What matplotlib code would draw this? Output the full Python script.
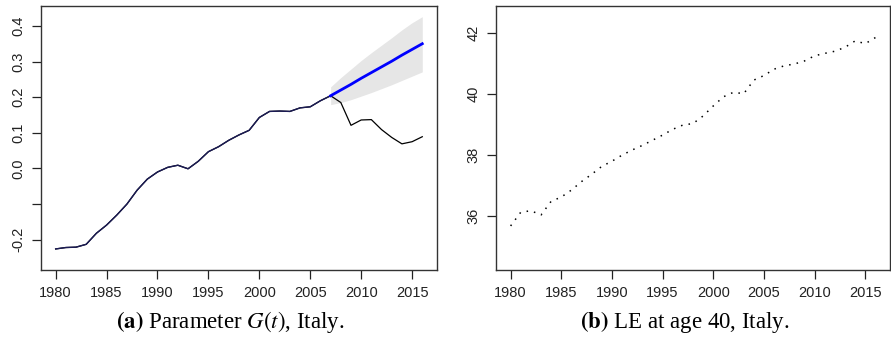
import matplotlib
matplotlib.use("Agg")
import matplotlib.pyplot as plt

years = list(range(1980, 2017))

# estimated parameter G(t), Italy (observed)
g_obs = [-0.226, -0.222, -0.221, -0.213, -0.182, -0.159, -0.131, -0.100, -0.061, -0.030,
         -0.010, 0.003, 0.009, -0.001, 0.020, 0.047, 0.061, 0.079, 0.094, 0.107,
         0.143, 0.160, 0.161, 0.160, 0.170, 0.173, 0.190, 0.204, 0.185, 0.121,
         0.136, 0.137, 0.109, 0.087, 0.069, 0.075, 0.089]
fit_end = 2007

# forecast 2007-2016 with band
fc_years = list(range(2007, 2017))
fc_mean = [0.204, 0.220, 0.236, 0.253, 0.269, 0.285, 0.301, 0.318, 0.334, 0.350]
fc_upper = [0.229, 0.255, 0.279, 0.303, 0.325, 0.346, 0.367, 0.389, 0.409, 0.426]
fc_lower = [0.179, 0.185, 0.193, 0.203, 0.213, 0.224, 0.235, 0.247, 0.259, 0.271]

# life expectancy at age 40, Italy
le40 = [35.66, 36.11, 36.16, 36.02, 36.47, 36.61, 36.84, 37.12, 37.36, 37.62,
        37.79, 37.99, 38.16, 38.31, 38.48, 38.65, 38.84, 38.98, 39.03, 39.28,
        39.61, 39.91, 40.06, 40.01, 40.46, 40.61, 40.82, 40.93, 40.99, 41.09,
        41.26, 41.34, 41.41, 41.54, 41.75, 41.66, 41.86]

x_ticks = [1980, 1985, 1990, 1995, 2000, 2005, 2010, 2015]
g_ticks = [-0.2, -0.1, 0.0, 0.1, 0.2, 0.3, 0.4]
g_ticklabels = ["-0.2", "", "0.0", "0.1", "0.2", "0.3", "0.4"]
le_ticks = [36, 38, 40, 42]

plt.rcParams["font.family"] = ["Liberation Sans", "DejaVu Sans"]
plt.rcParams["mathtext.fontset"] = "stix"

fig = plt.figure(figsize=(8.91, 3.47), dpi=100)
ax1 = fig.add_axes([0.046, 0.222, 0.4444, 0.7608])
ax2 = fig.add_axes([0.5567, 0.222, 0.4422, 0.7608])


def r_style(ax):
    for s in ax.spines.values():
        s.set_color("#333333")
        s.set_linewidth(1.0)
    ax.tick_params(direction="out", length=6.3, width=0.9, colors="#222222",
                   labelsize=10.5, pad=5)
    for lab in ax.get_yticklabels():
        lab.set_rotation(90)
        lab.set_va("center")


# (a) parameter G(t)
ax1.fill_between(fc_years, fc_lower, fc_upper, color="#e6e6e6", linewidth=0)
ax1.plot(years, g_obs, color="black", lw=0.9)
n_fit = fit_end - years[0] + 1
ax1.plot(years[:n_fit], g_obs[:n_fit], color="#1b1b55", lw=1.0)
ax1.plot(fc_years, fc_mean, color="#0000ff", lw=2.0)
ax1.set_xlim(1978.56, 2017.44)
ax1.set_ylim(-0.285, 0.456)
ax1.set_xticks(x_ticks)
ax1.set_yticks(g_ticks)
ax1.set_yticklabels(g_ticklabels)
r_style(ax1)

# (b) LE at age 40
ax2.plot(years, le40, color="black", lw=1.1, linestyle=(0, (1, 4)))
ax2.set_xlim(1978.56, 2017.44)
ax2.set_ylim(34.21, 42.9)
ax2.set_xticks(x_ticks)
ax2.set_yticks(le_ticks)
r_style(ax2)

cap = dict(fontsize=16.5, family=["Liberation Serif", "DejaVu Serif"],
           ha="center", va="center")
fig.text(0.258, 0.072, r"$\mathbf{(a)}$ Parameter $G(t)$, Italy.", **cap)
fig.text(0.768, 0.072, r"$\mathbf{(b)}$ LE at age 40, Italy.", **cap)

fig.savefig("out.png", dpi=100)
